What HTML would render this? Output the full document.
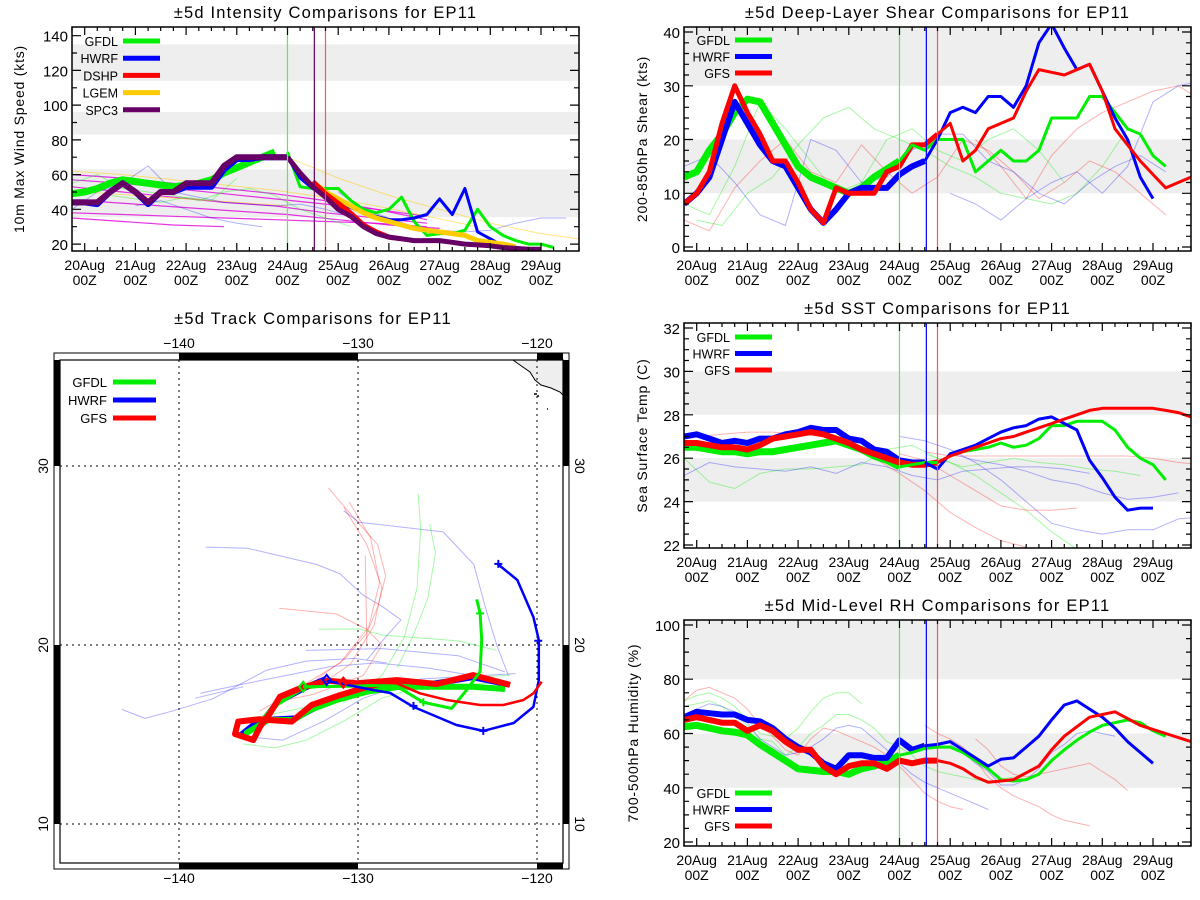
<!DOCTYPE html>
<html><head><meta charset="utf-8"><title>EP11 comparisons</title>
<style>
html,body{margin:0;padding:0;background:#fff;}
svg{display:block;font-family:"Liberation Sans","DejaVu Sans",sans-serif;}
text{fill:#000;}
</style></head>
<body>
<svg id="fig" width="1200" height="900" viewBox="0 0 1200 900" xmlns="http://www.w3.org/2000/svg">
  <defs id="defs"></defs>
  <rect x="0" y="0" width="1200" height="900" fill="#fff"/>
</svg>
<script>
// ---------------- DATA ----------------
const dayLabels = ["20Aug","21Aug","22Aug","23Aug","24Aug","25Aug","26Aug","27Aug","28Aug","29Aug"];
const intTicks = [20,40,60,80,100,120,140];
const shearTicks = [0,10,20,30,40];
const sstTicks = [22,24,26,28,30,32];
const rhTicks = [20,40,60,80,100];

// Intensity (kts), 6-hourly
const intSPC3Start = -0.25;
const intSPC3Past = [44,44,44,50,55,50,44,50,50,55,55,55,65,70,70,70,70,70];
const intSPC3FcStart = 4.0;
const intSPC3Fc = [70,61,53,47,40,36,30,26,24,23,22,22,22,21,20,19.5,19,18,17.5,17,17];
const intGFDLPast = [49,50,52,55,57,56,55,54,53,54,55,57,61,64,67,70,73];
const intGFDLFc = [73,53,52,52,52,45,40,38,40,47,33,25,26,26,28,40,30,25,22,20,20,18];
const intHWRFPast = [44,44,43,50,55,50,43,50,50,53,53,53,63,69,69,70,70,70];
const intHWRFFc = [70,58,52,47,44,41,38,36,34,34,35,37,46,37,52,27,23,19,18,16,15];
const intDSHPStart = 4.5;
const intDSHP = [56,49,43.5,37.7,31,27,24,23];
const intLGEMStart = 4.5;
const intLGEM = [56,50,46,42,38,35,33,31,29,28,27,26,25,22,21,20,18.5];
// faint older guidance (daily)
const intFaintMagenta = [[-0.25,[60,58,55,52,49,45,40,34]],[-0.25,[57,55,52,49,46,43,40,36]],[-0.25,[35,33,31,30]],[-0.25,[53,50,47,44,42,38,35,32]],[0,[45,43,41,39,37,34,31,29]],[-0.25,[38,37,36,35,34,33,32,30]]];
const intFaintOrange = [[-0.25,[62,60,57,54,51,47,42,36,30]],[0,[50,48,46,44,42]],[4,[70,58,48,40,32,26,22,20]]];
const intFaintGreen = [[-0.25,[55,60,52,50,48,45,50,52,48,40,35,30]],[0.5,[48,46,44,47,45,58]]];
const intFaintBlue = [[-0.25,[40,50,55,65,50,47,44,43,42,43,40,36]],[5,[50,40,35,30,28,27,28,32,35,35]],[1,[42,45,40,35,32,30]]];
const intFaintPink = [[4.5,[52,45,38,32,28,25]]];

// Shear (kts)
const shGFDLPast = [13,14,18,21,25,27.5,27,23,19,15,13,12,11,10,11,13,14.5,16];
const shGFDLFc = [16,19,18,20,20,20,14,16,18,16,16,18,24,24,24,28,28,25,22,21,17,15];
const shHWRFPast = [8,10,13,20,27,23,19,16,15,11,7,4.5,7,10,11,11,11,13.5,15,16];
const shHWRFFc = [16,20,25,26,25,28,28,26,30,38,41.5,37,33,34,29,24,20,13,9];
const shGFSPast = [8,10,14,23,30,25,21,16,16,12,7,4.5,11,10,10,10,14,15,19,19,21];
const shGFSFc = [21,23,16,18,22,23,24,29,33,32.5,32,33,34,29,22,19,16,13.5,11,12,13];
const shFaintGreen = [[-0.25,[8,6,15,27,22,16,10,12,20,22,18,16,20,22,18,12]],[0,[5,4,10,13,19,24,26,22,20,18,15,13,10,9,8,10,15,22]]];
const shFaintRed = [[-0.25,[5,3,11,16,20,14,12,19,14,10,13,20,18,14,9,12,16,14,10,6]],[5.5,[20,15,9,17,22,25,27,29,30,27,26,25]]];
const shFaintBlue = [[-0.25,[15,17,12,6,4,20,18,12,13,18,21,21,16,14,10,8,12,15,17,14]],[5,[10,8,5,9,12,14,10,15,27,30,31,31]]];

// SST (C)
const sstHWRFPast = [27.0,27.1,26.9,26.7,26.8,26.7,26.9,26.9,27.1,27.2,27.4,27.3,27.3,26.9,26.8,26.4,26.3,25.9,25.8,25.8];
const sstHWRFFc = [25.8,25.5,26.2,26.4,26.6,26.9,27.2,27.4,27.5,27.8,27.9,27.6,27.3,25.9,25.1,24.2,23.6,23.7,23.7];
const sstGFDLPast = [26.5,26.5,26.4,26.3,26.3,26.2,26.3,26.3,26.4,26.5,26.6,26.7,26.8,26.6,26.4,26.1,25.9,25.6];
const sstGFDLFc = [25.6,25.7,25.8,25.8,26.1,26.3,26.4,26.5,26.7,26.5,26.6,26.9,27.5,27.5,27.7,27.7,27.7,27.3,26.5,26.0,25.7,25.0];
const sstGFSPast = [26.7,26.7,26.6,26.5,26.5,26.4,26.6,26.9,27.0,27.1,27.2,27.1,26.9,26.7,26.4,26.2,26.0,25.8,25.7,25.7,25.8];
const sstGFSFc = [25.8,26.1,26.3,26.5,26.7,26.9,27.0,27.2,27.4,27.6,27.8,28.0,28.2,28.3,28.3,28.3,28.3,28.3,28.2,28.1,27.9];
const sstFaintGreen = [[-0.25,[26.0,24.9,24.6,25.3,25.5,25.5,25.6,25.7,26.4,26.6,26.0,25.6,25.8,26.0,25.8,25.7,25.5,25.4,25.2]],[4.5,[26.2,25.8,25.2,24.4,23.6,22.6,21.8]]];
const sstFaintBlue = [[-0.25,[25.2,25.8,25.6,25.5,25.4,25.6,25.3,25.8,25.6,25.2,25.0,25.4,25.5,25.6,25.6,25.5,25.3]],[4,[27.0,26.8,26.4,25.8,25.0,24.0,23.0,22.7,22.5,22.7,22.7,23.2,23.3]],[5,[26.2,25.9,25.7,25.4,25.0,24.8,24.4,24.1,24.2,24.4]]];
const sstFaintRed = [[0,[27,27.1,27.2,27.2,27.1,27.0,26.5,26.0,25.3,24.5,23.5,22.8,22.2,21.9]],[4.5,[26.3,26.1,26.1,26.1,26.1,26.1,26.1,26.1,26.1,26.0,25.8,25.7]],[4,[26.2,25.9,25.2,24.5,23.8,23.6,23.6,23.7]]];

// RH (%)
const rhHWRFPast = [66,68,67.5,67,67,65,64.5,62,58,55,53,49,47,52,52,51,51,57.5,54,55.5];
const rhHWRFFc = [55.5,56,57,54,51,48,50.5,51,55,59,65,70.5,72,69,66,62,57,53,49];
const rhGFDLPast = [62.5,63,62,61,60.5,59.5,56,53,50,47,46.5,46,46,45,47,48,49.5,52];
const rhGFDLFc = [52,53,54.5,55,55,53,50,47,43,42.5,43,45,50,54,57.5,60.5,63,64,65,64,61,59];
const rhGFSPast = [65,66,65,64,64,61,63,61,57,54,54,48,45,48,49,49,47,50,49,50,50];
const rhGFSFc = [50,49,47,44,42,42.5,43,45.5,48,54,59,62.5,66,67,68,65.5,63,61.5,60,58.5,57];
const rhFaintGreen = [[-0.25,[72,74,75,73,70,65,60,59,58,62,68,73,75,75,71]],[-0.25,[70,71,72,70,67,63,58,57,52,55,60,63,67,67,65,62,57,55,52,48,46,45,44,43,42,43,44]]];
const rhFaintRed = [[-0.25,[72,76,77,75,73,69,63,59,54,52,58,62,61,59,57,55,52,48,43,38,35,33,32]],[4.5,[63,60,58,55,50,44,40,37,35,33,30,28,27,26]],[5.5,[58,54,48,45,44,45,46,47,48,49,46,43,39]]];
const rhFaintBlue = [[-0.25,[67,69,71,70,68,64,58,55,52,53,55,58,62,63,62,58,54,49,45,42,40,38,36,34,32]],[5,[56,53,49,46,41,41,43,47,53,56,60,61,60,59]]];

// Track (lon, lat)
const trkGFSThickLon = [-121.5,-123.56,-125.6,-127.84,-130.07,-131.75,-133.24,-134.36,-134.92,-135.47,-135.85,-136.87,-136.69,-135.57,-133.7,-132.59,-131.0,-129.33,-127.84];
const trkGFSThickLat = [17.77,18.32,17.82,18.04,17.86,18.01,17.58,17.11,16.18,15.44,14.69,15.03,15.72,15.85,15.72,16.65,17.2,17.71,18.04];
const trkGFDLThickLon = [-121.79,-123.56,-127.65,-129.51,-131.19,-132.68,-133.61,-135.01,-136.22,-135.47,-134.54,-133.06,-131.75];
const trkGFDLThickLat = [17.54,17.67,17.67,17.39,16.93,16.37,15.81,15.81,15.1,15.53,16.74,17.67,17.82];
const trkHWRFThickLon = [-121.6,-123.6,-126,-128.5,-130.5,-132.2,-133.5,-135.5,-136.5,-135.5,-134.5,-133,-131.8];
const trkHWRFThickLat = [17.8,18.2,17.8,17.6,17.2,16.6,15.9,15.8,15.0,15.5,16.8,17.6,18.1];
const trkHWRFFcLon = [-131.75,-129.2,-128.2,-126.9,-124.5,-123.0,-121.3,-120.2,-119.9,-119.9,-120.2,-121.1,-122.2];
const trkHWRFFcLat = [18.0,17.49,17.32,16.54,15.53,15.2,15.64,16.54,18.04,20.28,21.56,23.63,24.53];
const trkGFDLFcLon = [-133.06,-130.5,-128.03,-127.65,-126.35,-124.77,-123.93,-123.18,-123.09,-123.18,-123.37];
const trkGFDLFcLat = [17.67,17.7,17.77,17.58,16.8,16.46,17.49,18.51,20.28,21.77,22.55];
const trkGFSFcLon = [-130.82,-129.5,-127.84,-126.54,-125.04,-123.18,-121.88,-120.76,-120.2,-119.74];
const trkGFSFcLat = [17.9,17.9,17.86,17.3,16.93,16.65,16.65,16.93,17.3,17.95];
const trkFaintBlue = [
 [[-143.2,-141.9,-140.4,-138.1,-135.1,-132.9,-130.2,-128.4],[16.4,15.9,16.3,17.0,18.6,19.1,19.25,19.0]],
 [[-138.5,-136.15,-132.3,-131.0,-129.73,-128.66,-127.6,-128.45,-129.5],[25.47,25.4,24.5,23.97,22.8,22.16,21.4,20.45,19.17]],
 [[-130.8,-129.95,-125.24,-123.53,-122.9,-122.25,-121.6],[27.5,26.86,26.32,24.5,22.16,20.0,18.3]],
 [[-139.1,-136.4],[17.03,17.67]],
 [[-132.9,-128.66,-124.4,-121.8],[19.7,19.8,19.4,18.5]],
 [[-136.4,-134.2,-131.9,-129.7,-126.5,-121.2],[14.9,14.68,15.75,17.03,18.1,18.4]],
 [[-138.8,-136.5,-134.0,-131.5,-129.0,-126.0,-123.0],[17.3,17.8,18.3,18.8,19.0,18.7,18.2]]];
const trkFaintRed = [
 [[-131.66,-130.4,-128.9,-128.45,-128.88,-129.5,-130.8,-132.3],[28.78,27.3,25.6,23.87,22.16,20.66,19.17,18.1]],
 [[-130.8,-129.5,-128.66,-129.1,-130.4,-131.9],[27.7,25.6,23.2,21.1,18.95,17.9]],
 [[-134.4,-131.2,-129.5,-128.66,-129.7,-132.5,-134.65],[22.05,21.73,20.87,20.0,18.3,17.24,16.8]],
 [[-129.6,-129.5],[25.0,20.0]],
 [[-130.5,-129.3,-128.8,-129.4,-131.0,-133.5,-135.5],[28.0,26.0,23.5,21.0,19.0,17.5,16.3]]];
const trkFaintGreen = [
 [[-126.63,-126.5,-126.7,-127.4,-128.66,-130.8],[28.46,26.43,23.2,20.45,18.3,16.8]],
 [[-126.0,-125.67,-126.1,-126.95,-127.8],[26.75,25.15,22.6,20.45,18.74]],
 [[-132.2,-129.95,-128.66,-124.4,-122.25],[20.88,20.9,20.56,20.23,19.7]],
 [[-136.4,-134.65,-132.9,-130.8,-128.66,-126.5,-122.25],[14.47,14.25,14.68,15.75,17.03,17.67,17.88]],
 [[-135.5,-133.0,-130.0,-127.0,-124.0,-121.5],[16.0,16.5,17.3,17.9,18.2,18.3]]];
const trkHWRFCrossLon = [-126.9,-123.0,-119.93,-122.16];
const trkHWRFCrossLat = [16.6,15.2,20.24,24.53];
const trkGFDLCrossLon = [-126.35,-123.18];
const trkGFDLCrossLat = [16.8,21.77];
const trkLonTicks = [-140,-130,-120];
const trkLatTicks = [10,20,30];

// ---------------- DRAWING ----------------
const NS = "http://www.w3.org/2000/svg";
const svg = document.getElementById("fig");
const defs = document.getElementById("defs");
function mk(tag, attrs, parent) {
  const e = document.createElementNS(NS, tag);
  for (const k in attrs) e.setAttribute(k, attrs[k]);
  (parent || svg).appendChild(e);
  return e;
}
function txt(s, x, y, size, anchor, parent, name) {
  const t = mk("text", {x: x, y: y, "font-size": size, "text-anchor": anchor || "middle"}, parent);
  t.textContent = s;
  
  
  return t;
}
const GREEN = "#00ee00", BLUE = "#0000ff", RED = "#ff0000", ORANGE = "#ffcc00", PURPLE = "#660066", MAG = "#e000e0";
let clipN = 0;
function makeClip(x, y, w, h) {
  clipN++;
  const cp = mk("clipPath", {id: "clip" + clipN}, defs);
  mk("rect", {x: x, y: y, width: w, height: h}, cp);
  return "url(#clip" + clipN + ")";
}

function makePanel(cfg) {
  const g = mk("g", {});
  
  
  const X = d => cfg.x0 + (d - cfg.tmin) / (cfg.tmax - cfg.tmin) * (cfg.x1 - cfg.x0);
  const Y = v => cfg.y1 - (v - cfg.ymin) / (cfg.ymax - cfg.ymin) * (cfg.y1 - cfg.y0);
  cfg.bands.forEach(b => {
    const r = mk("rect", {x: cfg.x0, y: Y(Math.min(b[1], cfg.ymax)), width: cfg.x1 - cfg.x0, height: Y(b[0]) - Y(Math.min(b[1], cfg.ymax)), fill: "#eeeeee"}, g);
    
    
  });
  txt(cfg.title, (cfg.x0 + cfg.x1) / 2, cfg.y0 - 9, 16.5, "middle", g, "chart-title").setAttribute("letter-spacing", "1.2");
  const yt = txt(cfg.ylabel, 0, 0, 14, "middle", g, "y-axis-title");
  yt.setAttribute("transform", "translate(" + cfg.ylx + "," + ((cfg.y0 + cfg.y1) / 2) + ") rotate(-90)");
  yt.setAttribute("letter-spacing", "0.8");
  const dg = mk("g", {"clip-path": makeClip(cfg.x0, cfg.y0, cfg.x1 - cfg.x0, cfg.y1 - cfg.y0)}, g);
  
  
  return {g: g, dg: dg, X: X, Y: Y, cfg: cfg};
}
function line(P, start, step, vals, color, width, opacity, name) {
  let pts = vals.map((v, i) => P.X(start + i * step).toFixed(1) + "," + P.Y(v).toFixed(1)).join(" ");
  const pl = mk("polyline", {points: pts, fill: "none", stroke: color, "stroke-width": width, "stroke-opacity": opacity, "stroke-linejoin": "round"}, P.dg);
  
  
}
function vline(P, d, color, name) {
  const l = mk("line", {x1: P.X(d), x2: P.X(d), y1: P.cfg.y0, y2: P.cfg.y1, stroke: color, "stroke-width": 1.2}, P.dg);
  
  
}
function axes(P, ticks, minorStep) {
  const c = P.cfg, g = P.g;
  const fr = mk("rect", {x: c.x0, y: c.y0, width: c.x1 - c.x0, height: c.y1 - c.y0, fill: "none", stroke: "#000", "stroke-width": 1.5}, g);
  
  
  let p = "";
  for (let d = c.tmin; d <= c.tmax + 1e-6; d += 0.25) {
    const isMaj = Math.abs(d - Math.round(d)) < 1e-6;
    const L = isMaj ? 8 : 4, x = P.X(d).toFixed(1);
    p += "M" + x + "," + c.y1 + "v-" + L + "M" + x + "," + c.y0 + "v" + L;
  }
  for (let v = Math.ceil(c.ymin / minorStep) * minorStep; v <= c.ymax; v += minorStep) {
    const isMaj = ticks.indexOf(Math.round(v * 100) / 100) >= 0;
    const L = isMaj ? 9 : 5, y = P.Y(v).toFixed(1);
    p += "M" + c.x0 + "," + y + "h" + L + "M" + c.x1 + "," + y + "h-" + L;
  }
  const tk = mk("path", {d: p, stroke: "#000", "stroke-width": 1.2, fill: "none"}, g);
  
  
  dayLabels.forEach((s, i) => {
    txt(s, P.X(i), c.y1 + 19, 14, "middle", g, "x-tick-label");
    txt("00Z", P.X(i), c.y1 + 34, 14, "middle", g, "x-tick-label");
  });
  ticks.forEach(v => { txt(String(v), c.x0 - 4, P.Y(v) + 6, 15, "end", g, "y-tick-label"); });
}
function legend(P, x, y, entries, dy) {
  entries.forEach((e, i) => {
    const lg = mk("g", {}, P.g);
    
    
    txt(e[0], x + 33, y + i * dy + 5, 12.5, "end", lg, "legend-label");
    const sw = mk("line", {x1: x + 38, x2: x + 75, y1: y + i * dy, y2: y + i * dy, stroke: e[1], "stroke-width": 5}, lg);
    
    
  });
}
const T0 = -0.25, T1 = 9.75;

// Intensity panel
const PI = makePanel({name: "intensity-panel", title: "±5d Intensity Comparisons for EP11", ylabel: "10m Max Wind Speed (kts)", ylx: 24,
  x0: 72, x1: 579, y0: 27, y1: 251, tmin: T0, tmax: T1, ymin: 16, ymax: 145, bands: [[35.5, 63], [83, 96], [114, 135]]});
intFaintMagenta.forEach(f => line(PI, f[0], 1, f[1], MAG, 1.2, 0.8, "faint-spc3-line"));
intFaintOrange.forEach(f => line(PI, f[0], 1, f[1], ORANGE, 1, 0.5, "faint-lgem-line"));
intFaintGreen.forEach(f => line(PI, f[0], 0.5, f[1], GREEN, 1, 0.35, "faint-gfdl-line"));
intFaintBlue.forEach(f => line(PI, f[0], 0.5, f[1], BLUE, 1, 0.3, "faint-hwrf-line"));
intFaintPink.forEach(f => line(PI, f[0], 0.5, f[1], RED, 1, 0.3, "faint-dshp-line"));
line(PI, intSPC3Start, 0.25, intGFDLPast, GREEN, 7, 1, "gfdl-past-line");
line(PI, intSPC3Start, 0.25, intHWRFPast, BLUE, 6, 1, "hwrf-past-line");
line(PI, intSPC3Start, 0.25, intSPC3Past, PURPLE, 6, 1, "spc3-past-line");
line(PI, intSPC3FcStart, 0.25, intGFDLFc, GREEN, 3, 1, "gfdl-forecast-line");
line(PI, intSPC3FcStart, 0.25, intHWRFFc, BLUE, 3, 1, "hwrf-forecast-line");
line(PI, intLGEMStart, 0.25, intLGEM, ORANGE, 5, 1, "lgem-forecast-line");
line(PI, intDSHPStart, 0.25, intDSHP, RED, 5, 1, "dshp-forecast-line");
line(PI, intSPC3FcStart, 0.25, intSPC3Fc, PURPLE, 5, 1, "spc3-forecast-line");
vline(PI, 4.0, "#55ee55", "init-time-line-gfdl");
vline(PI, 4.53, PURPLE, "init-time-line-spc3");
vline(PI, 4.75, "#ff5555", "init-time-line-dshp");
axes(PI, intTicks, 10);
legend(PI, 85, 41, [["GFDL", GREEN], ["HWRF", BLUE], ["DSHP", RED], ["LGEM", ORANGE], ["SPC3", PURPLE]], 17.2);

// Shear panel
const PS = makePanel({name: "shear-panel", title: "±5d Deep-Layer Shear Comparisons for EP11", ylabel: "200-850hPa Shear (kts)", ylx: 647,
  x0: 684, x1: 1191, y0: 27, y1: 251, tmin: T0, tmax: T1, ymin: -0.74, ymax: 40.93, bands: [[10, 20], [30, 41]]});
shFaintGreen.forEach(f => line(PS, f[0], 0.5, f[1], GREEN, 1, 0.35, "faint-gfdl-line"));
shFaintRed.forEach(f => line(PS, f[0], 0.5, f[1], RED, 1, 0.3, "faint-gfs-line"));
shFaintBlue.forEach(f => line(PS, f[0], 0.5, f[1], BLUE, 1, 0.3, "faint-hwrf-line"));
line(PS, T0, 0.25, shGFDLPast, GREEN, 7, 1, "gfdl-past-line");
line(PS, T0, 0.25, shHWRFPast, BLUE, 6, 1, "hwrf-past-line");
line(PS, T0, 0.25, shGFSPast, RED, 5, 1, "gfs-past-line");
line(PS, 4.0, 0.25, shGFDLFc, GREEN, 3, 1, "gfdl-forecast-line");
line(PS, 4.5, 0.25, shHWRFFc, BLUE, 3, 1, "hwrf-forecast-line");
line(PS, 4.75, 0.25, shGFSFc, RED, 3, 1, "gfs-forecast-line");
vline(PS, 4.0, "#55ee55", "init-time-line-gfdl");
vline(PS, 4.53, BLUE, "init-time-line-hwrf");
vline(PS, 4.75, "#ff5555", "init-time-line-gfs");
axes(PS, shearTicks, 2);
legend(PS, 697, 40, [["GFDL", GREEN], ["HWRF", BLUE], ["GFS", RED]], 16.5);

// SST panel
const PT = makePanel({name: "sst-panel", title: "±5d SST Comparisons for EP11", ylabel: "Sea Surface Temp (C)", ylx: 647,
  x0: 684, x1: 1191, y0: 323, y1: 548, tmin: T0, tmax: T1, ymin: 21.86, ymax: 32.23, bands: [[24, 26], [28, 30]]});
sstFaintGreen.forEach(f => line(PT, f[0], 0.5, f[1], GREEN, 1, 0.35, "faint-gfdl-line"));
sstFaintBlue.forEach(f => line(PT, f[0], 0.5, f[1], BLUE, 1, 0.3, "faint-hwrf-line"));
sstFaintRed.forEach(f => line(PT, f[0], 0.5, f[1], RED, 1, 0.3, "faint-gfs-line"));
line(PT, T0, 0.25, sstHWRFPast, BLUE, 6, 1, "hwrf-past-line");
line(PT, T0, 0.25, sstGFDLPast, GREEN, 7, 1, "gfdl-past-line");
line(PT, T0, 0.25, sstGFSPast, RED, 6, 1, "gfs-past-line");
line(PT, 4.0, 0.25, sstGFDLFc, GREEN, 3, 1, "gfdl-forecast-line");
line(PT, 4.5, 0.25, sstHWRFFc, BLUE, 3, 1, "hwrf-forecast-line");
line(PT, 4.75, 0.25, sstGFSFc, RED, 3, 1, "gfs-forecast-line");
vline(PT, 4.0, "#55ee55", "init-time-line-gfdl");
vline(PT, 4.53, BLUE, "init-time-line-hwrf");
vline(PT, 4.75, "#ff5555", "init-time-line-gfs");
axes(PT, sstTicks, 0.5);
legend(PT, 697, 337, [["GFDL", GREEN], ["HWRF", BLUE], ["GFS", RED]], 16.5);

// RH panel
const PR = makePanel({name: "rh-panel", title: "±5d Mid-Level RH Comparisons for EP11", ylabel: "700-500hPa Humidity (%)", ylx: 638,
  x0: 684, x1: 1191, y0: 620, y1: 846, tmin: T0, tmax: T1, ymin: 18.53, ymax: 101.84, bands: [[40, 60], [80, 102]]});
rhFaintGreen.forEach(f => line(PR, f[0], 0.25, f[1], GREEN, 1, 0.35, "faint-gfdl-line"));
rhFaintRed.forEach(f => line(PR, f[0], 0.25, f[1], RED, 1, 0.3, "faint-gfs-line"));
rhFaintBlue.forEach(f => line(PR, f[0], 0.25, f[1], BLUE, 1, 0.3, "faint-hwrf-line"));
line(PR, T0, 0.25, rhGFDLPast, GREEN, 7, 1, "gfdl-past-line");
line(PR, T0, 0.25, rhHWRFPast, BLUE, 6, 1, "hwrf-past-line");
line(PR, T0, 0.25, rhGFSPast, RED, 6, 1, "gfs-past-line");
line(PR, 4.0, 0.25, rhGFDLFc, GREEN, 3, 1, "gfdl-forecast-line");
line(PR, 4.5, 0.25, rhHWRFFc, BLUE, 3, 1, "hwrf-forecast-line");
line(PR, 4.75, 0.25, rhGFSFc, RED, 3, 1, "gfs-forecast-line");
vline(PR, 4.0, "#55ee55", "init-time-line-gfdl");
vline(PR, 4.53, BLUE, "init-time-line-hwrf");
vline(PR, 4.75, "#ff5555", "init-time-line-gfs");
axes(PR, rhTicks, 5);
legend(PR, 697, 793, [["GFDL", GREEN], ["HWRF", BLUE], ["GFS", RED]], 16.5);

// ---------------- TRACK MAP ----------------
const TG = mk("g", {});


const LX = lon => 179 + (lon + 140) * 17.9;
const LY = lat => 466 - (lat - 30) * 17.9;
const MX0 = 60, MX1 = 563, MY0 = 360, MY1 = 863;
txt("±5d Track Comparisons for EP11", 313, 324, 16.5, "middle", TG, "track-title").setAttribute("letter-spacing", "1.2");
const ofr = mk("rect", {x: 54, y: 353, width: 515, height: 516, fill: "#fff", stroke: "#000", "stroke-width": 1}, TG);


const land = mk("path", {d: "M513,360 L520,365 L530,372 L535,380 L541,385 L551,388 L560,392 L563,395 L563,360 Z", fill: "#eeeeee", stroke: "#000", "stroke-width": 1}, TG);


const isl = mk("path", {d: "M534,394h3M537,396h2M547,409h1", stroke: "#000", "stroke-width": 1.5}, TG);


let gp = "";
trkLonTicks.forEach(l => { gp += "M" + LX(l) + "," + MY0 + "V" + MY1; });
trkLatTicks.forEach(l => { gp += "M" + MX0 + "," + LY(l) + "H" + MX1; });
const grid = mk("path", {d: gp, stroke: "#000", "stroke-width": 1, "stroke-dasharray": "2,4", fill: "none"}, TG);


const TD = mk("g", {"clip-path": makeClip(MX0, MY0, MX1 - MX0, MY1 - MY0)}, TG);


function trk(lons, lats, color, w, op, name) {
  const pts = lons.map((l, i) => LX(l).toFixed(1) + "," + LY(lats[i]).toFixed(1)).join(" ");
  const pl = mk("polyline", {points: pts, fill: "none", stroke: color, "stroke-width": w, "stroke-opacity": op, "stroke-linejoin": "round"}, TD);
  
  
}
trkFaintBlue.forEach(t => trk(t[0], t[1], BLUE, 1, 0.3, "faint-hwrf-track"));
trkFaintRed.forEach(t => trk(t[0], t[1], RED, 1, 0.3, "faint-gfs-track"));
trkFaintGreen.forEach(t => trk(t[0], t[1], GREEN, 1, 0.35, "faint-gfdl-track"));
trk(trkHWRFThickLon, trkHWRFThickLat, BLUE, 6, 1, "hwrf-past-track");
trk(trkGFDLThickLon, trkGFDLThickLat, GREEN, 6, 1, "gfdl-past-track");
trk(trkGFSThickLon, trkGFSThickLat, RED, 6, 1, "gfs-past-track");
trk(trkGFDLFcLon, trkGFDLFcLat, GREEN, 3, 1, "gfdl-forecast-track");
trk(trkHWRFFcLon, trkHWRFFcLat, BLUE, 2.5, 1, "hwrf-forecast-track");
trk(trkGFSFcLon, trkGFSFcLat, RED, 2.5, 1, "gfs-forecast-track");
function crosses(lons, lats, color, name) {
  let d = "";
  lons.forEach((l, i) => { const x = LX(l), y = LY(lats[i]); d += "M" + (x - 4) + "," + y + "h8M" + x + "," + (y - 4) + "v8"; });
  const p = mk("path", {d: d, stroke: color, "stroke-width": 2, fill: "none"}, TD);
  
  
}
crosses(trkHWRFCrossLon, trkHWRFCrossLat, BLUE, "hwrf-day-markers");
crosses(trkGFDLCrossLon, trkGFDLCrossLat, GREEN, "gfdl-day-markers");
function diamond(lon, lat, color, name) {
  const x = LX(lon), y = LY(lat);
  const p = mk("path", {d: "M" + x + "," + (y - 5) + "l4,5l-4,5l-4,-5z", stroke: color, "stroke-width": 2, fill: "none"}, TD);
  
  
}
diamond(-131.75, 18.05, BLUE, "hwrf-start-marker");
diamond(-130.82, 17.9, RED, "gfs-start-marker");
diamond(-133.06, 17.67, GREEN, "gfdl-start-marker");
const inner = mk("rect", {x: MX0, y: MY0, width: MX1 - MX0, height: MY1 - MY0, fill: "none", stroke: "#000", "stroke-width": 1.2}, TG);


let bb = "";
bb += "M" + LX(-140) + "," + (MY0 - 3.5) + "H" + LX(-130) + "M" + LX(-120) + "," + (MY0 - 3.5) + "H" + MX1;
bb += "M" + LX(-140) + "," + (MY1 + 3.5) + "H" + LX(-130) + "M" + LX(-120) + "," + (MY1 + 3.5) + "H" + MX1;
bb += "M" + (MX0 - 3.5) + "," + MY0 + "V" + LY(30) + "M" + (MX0 - 3.5) + "," + LY(20) + "V" + LY(10);
bb += "M" + (MX1 + 3.5) + "," + MY0 + "V" + LY(30) + "M" + (MX1 + 3.5) + "," + LY(20) + "V" + LY(10);
const bars = mk("path", {d: bb, stroke: "#000", "stroke-width": 6, fill: "none"}, TG);


trkLonTicks.forEach(l => {
  txt("\u2212" + Math.abs(l), LX(l), 348, 14, "middle", TG, "lon-tick-label");
  txt("\u2212" + Math.abs(l), LX(l), 883, 14, "middle", TG, "lon-tick-label");
});
trkLatTicks.forEach(l => {
  const a = txt(String(l), 0, 0, 14, "middle", TG, "lat-tick-label");
  a.setAttribute("transform", "translate(48," + LY(l) + ") rotate(-90)");
  const b = txt(String(l), 0, 0, 14, "middle", TG, "lat-tick-label");
  b.setAttribute("transform", "translate(575," + LY(l) + ") rotate(90)");
});
[["GFDL", GREEN], ["HWRF", BLUE], ["GFS", RED]].forEach((e, i) => {
  const lg = mk("g", {}, TG);
  
  
  txt(e[0], 107, 387 + i * 18, 13, "end", lg, "legend-label");
  const sw = mk("line", {x1: 113, x2: 156, y1: 382 + i * 18, y2: 382 + i * 18, stroke: e[1], "stroke-width": 5}, lg);
  
  
});
</script>
</body></html>
